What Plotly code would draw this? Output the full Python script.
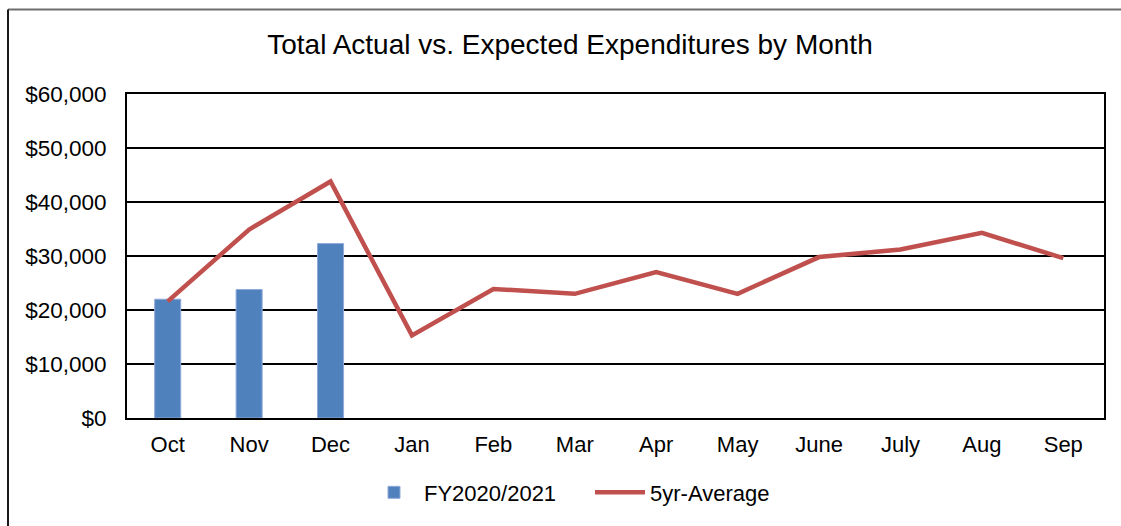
import plotly.graph_objects as go

months = ["Oct", "Nov", "Dec", "Jan", "Feb", "Mar", "Apr", "May", "June", "July", "Aug", "Sep"]
actual_months = ["Oct", "Nov", "Dec"]
actual_fy2021 = [22000, 23800, 32300]
avg_5yr = [21600, 34900, 43800, 15300, 23900, 23000, 27000, 23000, 29800, 31200, 34300, 29600]
y_ticks = [0, 10000, 20000, 30000, 40000, 50000, 60000]
y_tick_labels = ["$0", "$10,000", "$20,000", "$30,000", "$40,000", "$50,000", "$60,000"]

W, H = 1121, 526
L, R, T, B = 127, 1104, 94, 420

def px(x):
    return (x - L) / (R - L)

def py(y):
    return (B - y) / (B - T)

fig = go.Figure()
fig.add_trace(go.Bar(
    x=actual_months, y=actual_fy2021, name="FY2020/2021",
    marker=dict(color="#4F81BD", line=dict(color="#8FAADC", width=1)),
    width=0.32,
))
fig.add_trace(go.Scatter(
    x=months, y=avg_5yr, name="5yr-Average", mode="lines",
    line=dict(color="#C0504D", width=4.5),
))

font = "Liberation Sans, Arial, sans-serif"
fig.update_layout(
    width=W, height=H,
    margin=dict(l=L, r=W - R, t=T, b=H - B),
    paper_bgcolor="white", plot_bgcolor="white",
    font=dict(family=font, size=22, color="black"),
    title=dict(text="Total Actual vs. Expected Expenditures by Month",
               x=570 / W, xanchor="center", xref="container",
               y=1 - 44 / H, yanchor="middle", yref="container",
               font=dict(size=28, family=font, color="black")),
    showlegend=True,
    legend=dict(orientation="h", x=px(364), xanchor="left", y=py(495), yanchor="middle",
                font=dict(size=22), itemwidth=50, entrywidth=161, traceorder="normal",
                bgcolor="rgba(0,0,0,0)"),
    shapes=[
        dict(type="line", xref="paper", yref="paper", x0=px(8), x1=px(1125), y0=py(9), y1=py(9),
             line=dict(color="#6f6f6f", width=2)),
        dict(type="line", xref="paper", yref="paper", x0=px(8), x1=px(8), y0=py(9), y1=py(530),
             line=dict(color="#1a1a1a", width=2)),
    ],
)
fig.update_xaxes(
    type="category", categoryorder="array", categoryarray=months,
    range=[-0.5, 11.5], showgrid=False,
    showline=True, linecolor="black", linewidth=2, mirror=True,
    ticks="", ticklabelstandoff=6, tickfont=dict(size=22),
)
fig.update_yaxes(
    range=[0, 60000], tickvals=y_ticks, ticktext=y_tick_labels,
    showgrid=True, gridcolor="black", gridwidth=2,
    showline=True, linecolor="black", linewidth=2, mirror=True,
    zeroline=False, ticks="", ticklabelstandoff=14, tickfont=dict(size=22.5),
)

fig.write_html("out.html", config={"displayModeBar": False},
               post_script="document.body.style.margin='0px';")
